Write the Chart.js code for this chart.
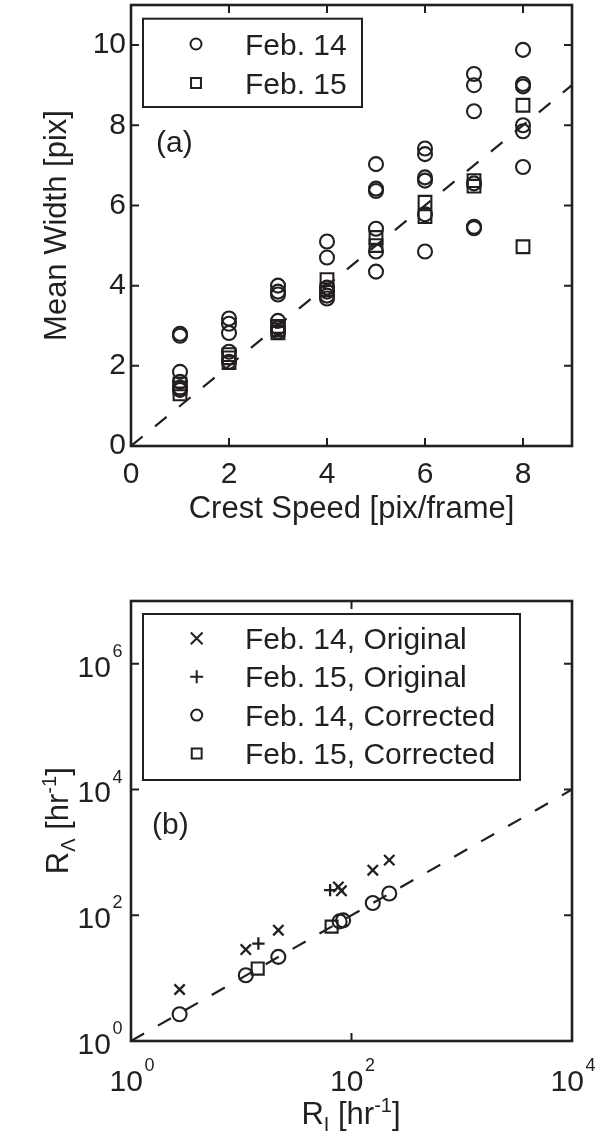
<!DOCTYPE html>
<html><head><meta charset="utf-8">
<script src="https://cdn.jsdelivr.net/npm/chart.js@4/dist/chart.umd.min.js"></script>
<style>
html,body{margin:0;padding:0;background:#fff;}
#wrap{position:relative;width:598px;height:1140px;overflow:hidden;background:#fff;}
canvas{position:absolute;left:0;}
#c1{top:0;} #c2{top:560px;}
</style></head><body>
<div id="wrap"><canvas id="c1" width="598" height="560"></canvas><canvas id="c2" width="598" height="580"></canvas></div>
<script>
// ---------- Panel (a) data ----------
const feb14Speed = [1,1,1,1,1,1, 2,2,2,2,2, 3,3,3,3,3,3, 4,4,4,4,4,4, 5,5,5,5,5,5, 6,6,6,6,6,6, 7,7,7,7,7,7, 8,8,8,8,8,8];
const feb14Width = [2.80,2.75,1.85,1.60,1.45,1.40, 3.18,3.05,2.82,2.35,2.10, 4.00,3.85,3.78,3.12,2.95,2.85, 5.10,4.70,3.95,3.85,3.75,3.68, 7.03,6.42,6.36,5.42,4.85,4.35, 7.42,7.28,6.70,6.62,5.78,4.85, 9.28,9.00,8.35,6.55,5.47,5.43, 9.88,9.03,8.97,8.00,7.85,6.96];
const feb15Speed = [1,1,1, 2,2,2, 3,3,3, 4,4, 5,5, 6,6, 7,7, 8,8];
const feb15Width = [1.55,1.45,1.30, 2.28,2.20,2.08, 2.98,2.90,2.82, 4.15,3.90, 5.20,5.00, 6.08,5.72, 6.62,6.48, 8.50,4.97];
const fitSpeed = [0, 9];
const fitWidth = [0, 9];
const speedTicks = [0, 2, 4, 6, 8];
const widthTicks = [0, 2, 4, 6, 8, 10];

// ---------- Panel (b) data ----------
const feb14OrigRI = [2.76, 11.0, 21.7, 76, 81, 156, 220];
const feb14OrigRL = [6.6, 28.5, 58, 283, 245, 522, 754];
const feb15OrigRI = [14.3, 64];
const feb15OrigRL = [35.5, 251];
const feb14CorrRI = [2.76, 11.0, 21.7, 78, 84, 156, 220];
const feb14CorrRL = [2.66, 11.1, 21.8, 80, 83, 157, 222];
const feb15CorrRI = [14.1, 66];
const feb15CorrRL = [14.2, 66];
const oneToOneRI = [1, 10000];
const oneToOneRL = [1, 10000];
const rateXTicks = [1, 100, 10000];
const rateYTicks = [1, 100, 10000, 1000000];

// ---------- styling ----------
const INK = '#231f20';
const FONT = '"Liberation Sans", Arial, Helvetica, sans-serif';
Chart.defaults.font.family = FONT;
Chart.defaults.font.size = 30;
Chart.defaults.color = INK;

function pts(xs, ys) { return xs.map((x, i) => ({x: x, y: ys[i]})); }
function markerSet(label, xs, ys, style, r, bw) {
  return { label: label, data: pts(xs, ys), pointStyle: style, pointRadius: r, pointHoverRadius: r,
    pointBorderWidth: bw || 2.1, pointHoverBorderWidth: bw || 2.1, pointBorderColor: INK,
    pointBackgroundColor: 'rgba(0,0,0,0)', borderColor: INK, backgroundColor: 'rgba(0,0,0,0)', showLine: false };
}
function dashedSet(xs, ys) {
  return { label: '', data: pts(xs, ys), showLine: true, borderColor: INK, borderWidth: 2.2,
    borderDash: [15, 16], pointRadius: 0, pointHoverRadius: 0, fill: false, tension: 0 };
}

function drawMarker(ctx, style, r, x, y) {
  if (Chart.helpers && Chart.helpers.drawPoint) {
    Chart.helpers.drawPoint(ctx, {pointStyle: style, radius: r, borderWidth: 2, rotation: 0}, x, y);
  }
}

function drawRich(ctx, parts, x, y, rot, align) {
  ctx.save();
  ctx.translate(x, y);
  ctx.rotate(rot || 0);
  ctx.textBaseline = 'alphabetic';
  ctx.textAlign = 'left';
  let w = 0;
  parts.forEach(p => { ctx.font = p.size + 'px ' + FONT; p.w = ctx.measureText(p.t).width; w += p.w + (p.gap || 0); });
  let cx = align === 'center' ? -w / 2 : (align === 'right' ? -w : 0);
  parts.forEach(p => { ctx.font = p.size + 'px ' + FONT; ctx.fillText(p.t, cx, p.dy || 0); cx += p.w + (p.gap || 0); });
  ctx.restore();
}

const framePlugin = {
  id: 'frame',
  afterDraw(chart, args, o) {
    const ctx = chart.ctx, a = chart.chartArea, xs = chart.scales.x, ys = chart.scales.y;
    ctx.save();
    ctx.strokeStyle = INK; ctx.lineWidth = 2; ctx.lineCap = 'butt';
    ctx.beginPath();
    o.xMarks.forEach(v => { const p = xs.getPixelForValue(v);
      ctx.moveTo(p, a.bottom); ctx.lineTo(p, a.bottom - o.len); ctx.moveTo(p, a.top); ctx.lineTo(p, a.top + o.len); });
    o.yMarks.forEach(v => { const p = ys.getPixelForValue(v);
      ctx.moveTo(a.left, p); ctx.lineTo(a.left + o.len, p); ctx.moveTo(a.right, p); ctx.lineTo(a.right - o.len, p); });
    ctx.stroke();
    ctx.lineWidth = 2.6; ctx.lineJoin = 'miter';
    ctx.strokeRect(a.left, a.top, a.right - a.left, a.bottom - a.top);
    ctx.restore();
  }
};

const boxLegend = {
  id: 'boxLegend',
  afterDraw(chart, args, o) {
    const ctx = chart.ctx;
    ctx.save();
    ctx.strokeStyle = INK; ctx.lineWidth = 2;
    ctx.fillStyle = '#ffffff';
    ctx.fillRect(o.left, o.top, o.right - o.left, o.bottom - o.top);
    ctx.strokeRect(o.left, o.top, o.right - o.left, o.bottom - o.top);
    o.items.forEach((it, i) => {
      const ds = chart.data.datasets[it.ds];
      const y = o.firstRow + i * o.rowGap;
      ctx.fillStyle = 'rgba(0,0,0,0)'; ctx.strokeStyle = INK; ctx.lineWidth = 2;
      drawMarker(ctx, ds.pointStyle, it.r, o.markerX, y);
      ctx.fillStyle = INK;
      ctx.font = '30px ' + FONT; ctx.textBaseline = 'alphabetic'; ctx.textAlign = 'left';
      ctx.fillText(ds.label, o.textX, y + 10.7);
    });
    ctx.restore();
  }
};

const textPlugin = {
  id: 'texts',
  afterDraw(chart, args, o) {
    const ctx = chart.ctx;
    ctx.save(); ctx.fillStyle = INK;
    (o.items || []).forEach(t => drawRich(ctx, t.parts, t.x, t.y, t.rot, t.align));
    ctx.restore();
  }
};

const powerLabels = {
  id: 'powerLabels',
  afterDraw(chart, args, o) {
    const ctx = chart.ctx, a = chart.chartArea, xs = chart.scales.x, ys = chart.scales.y;
    ctx.save(); ctx.fillStyle = INK;
    xs.ticks.forEach(t => {
      const p = xs.getPixelForValue(t.value);
      const e = String(Math.round(Math.log10(t.value)));
      drawRich(ctx, [{t: '10', size: 30, gap: 1.5}, {t: e, size: 18, dy: -19.5}], p + 1, a.bottom + 49.5, 0, 'center');
    });
    ys.ticks.forEach(t => {
      const p = ys.getPixelForValue(t.value);
      const e = String(Math.round(Math.log10(t.value)));
      drawRich(ctx, [{t: '10', size: 30, gap: 1.5}, {t: e, size: 18, dy: -19.5}], a.left - 8.5, p + 12.7, 0, 'right');
    });
    ctx.restore();
  }
};

function zeroPad(s) { s.paddingLeft = 0; s.paddingRight = 0; s.paddingTop = 0; s.paddingBottom = 0; }

// ---------- Chart (a) ----------
new Chart(document.getElementById('c1'), {
  type: 'scatter',
  data: { datasets: [
    markerSet('Feb. 14', feb14Speed, feb14Width, 'circle', 7),
    markerSet('Feb. 15', feb15Speed, feb15Width, 'rect', 9),
    dashedSet(fitSpeed, fitWidth)
  ]},
  options: {
    responsive: false, animation: false, devicePixelRatio: 1,
    layout: { padding: {top: 5, right: 26, left: 0, bottom: 0}, autoPadding: false },
    events: [],
    scales: {
      x: { type: 'linear', position: 'bottom', min: 0, max: 9,
        grid: {display: false, drawTicks: false}, border: {display: false},
        ticks: {padding: 11, maxRotation: 0, autoSkip: false, color: INK, font: {size: 30}},
        afterBuildTicks: s => { s.ticks = speedTicks.map(v => ({value: v})); },
        afterFit: s => { s.height = 114; zeroPad(s); },
        title: {display: true, text: 'Crest Speed [pix/frame]', color: INK, font: {size: 31}, padding: {top: 0, bottom: 32}}
      },
      y: { type: 'linear', position: 'left', min: 0, max: 11,
        grid: {display: false, drawTicks: false}, border: {display: false},
        ticks: {padding: 5, autoSkip: false, color: INK, font: {size: 30}},
        afterBuildTicks: s => { s.ticks = widthTicks.map(v => ({value: v})); },
        afterFit: s => { s.width = 131; zeroPad(s); },
        title: {display: true, text: 'Mean Width [pix]', color: INK, font: {size: 31}, padding: {top: 39, bottom: 0}}
      }
    },
    plugins: {
      legend: {display: false}, tooltip: {enabled: false},
      frame: {xMarks: speedTicks.slice(1), yMarks: widthTicks.slice(1), len: 8},
      boxLegend: {left: 143, top: 18.7, right: 362, bottom: 107, firstRow: 44, rowGap: 39, markerX: 196, textX: 245,
        items: [{ds: 0, r: 5.5}, {ds: 1, r: 7}]},
      texts: {items: [{parts: [{t: '(a)', size: 30}], x: 156, y: 152, rot: 0, align: 'left'}]}
    }
  },
  plugins: [framePlugin, boxLegend, textPlugin]
});

// ---------- Chart (b) ----------
new Chart(document.getElementById('c2'), {
  type: 'scatter',
  data: { datasets: [
    markerSet('Feb. 14, Original', feb14OrigRI, feb14OrigRL, 'crossRot', 7.3, 2.3),
    markerSet('Feb. 15, Original', feb15OrigRI, feb15OrigRL, 'cross', 6.2, 2.3),
    markerSet('Feb. 14, Corrected', feb14CorrRI, feb14CorrRL, 'circle', 7),
    markerSet('Feb. 15, Corrected', feb15CorrRI, feb15CorrRL, 'rect', 8.5),
    dashedSet(oneToOneRI, oneToOneRL)
  ]},
  options: {
    responsive: false, animation: false, devicePixelRatio: 1,
    layout: { padding: {top: 41, right: 26, left: 0, bottom: 0}, autoPadding: false },
    events: [],
    scales: {
      x: { type: 'logarithmic', position: 'bottom', min: 1, max: 10000,
        grid: {display: false, drawTicks: false}, border: {display: false},
        ticks: {display: false},
        afterBuildTicks: s => { s.ticks = rateXTicks.map(v => ({value: v})); },
        afterFit: s => { s.height = 99; zeroPad(s); }
      },
      y: { type: 'logarithmic', position: 'left', min: 1, max: 10000000,
        grid: {display: false, drawTicks: false}, border: {display: false},
        ticks: {display: false},
        afterBuildTicks: s => { s.ticks = rateYTicks.map(v => ({value: v})); },
        afterFit: s => { s.width = 131; zeroPad(s); }
      }
    },
    plugins: {
      legend: {display: false}, tooltip: {enabled: false},
      frame: {xMarks: rateXTicks, yMarks: rateYTicks.slice(1), len: 8},
      boxLegend: {left: 143, top: 54, right: 520, bottom: 220, firstRow: 78.3, rowGap: 38.4, markerX: 196.7, textX: 245,
        items: [{ds: 0, r: 8.3}, {ds: 1, r: 6.5}, {ds: 2, r: 5.5}, {ds: 3, r: 7}]},
      texts: {items: [
        {parts: [{t: '(b)', size: 30}], x: 152, y: 273.7, rot: 0, align: 'left'},
        {parts: [{t: 'R', size: 31}, {t: 'I', size: 20, dy: 7}, {t: ' [hr', size: 31}, {t: '-1', size: 20, dy: -12}, {t: ']', size: 31}],
          x: 351, y: 563.5, rot: 0, align: 'center'},
        {parts: [{t: 'R', size: 31}, {t: 'Λ', size: 20, dy: 7}, {t: ' [hr', size: 31}, {t: '-1', size: 20, dy: -12}, {t: ']', size: 31}],
          x: 68.3, y: 260.7, rot: -Math.PI / 2, align: 'center'}
      ]}
    }
  },
  plugins: [framePlugin, boxLegend, textPlugin, powerLabels]
});
</script>
</body></html>
